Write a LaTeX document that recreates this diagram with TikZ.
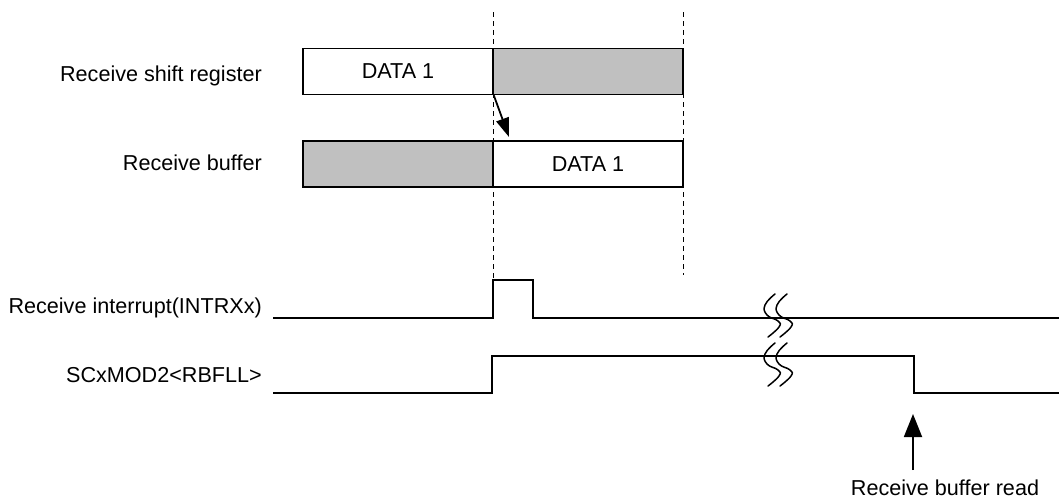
\documentclass[tikz,border=0pt]{standalone}
\usepackage{fontspec}
\setmainfont{Liberation Sans}
\usetikzlibrary{arrows.meta}
\begin{document}
\begin{tikzpicture}[x=1pt,y=-1pt,
  lbl/.style={inner sep=0pt,font=\fontsize{21.6}{25}\selectfont},
  cell/.style={draw=black,line width=1.6pt,minimum width=190pt,minimum height=46pt,inner sep=0pt,font=\fontsize{21.6}{25}\selectfont},
  wave/.style={line width=1.8pt,line join=miter},
  guide/.style={line width=0.8pt,dash pattern=on 5pt off 4pt},
  brk/.style={line width=1.5pt,line cap=round},
  tipa/.style={-{Triangle[length=19pt,width=13pt]},line width=1.8pt},
  tipb/.style={-{Triangle[length=23pt,width=18pt]},line width=1.8pt}]
\useasboundingbox (0,0) rectangle (1061,498);
\definecolor{shade}{RGB}{192,192,192}
% guide lines
\coordinate (g1t) at (493,12); \coordinate (g1b) at (493,280);
\coordinate (g2t) at (683,12); \coordinate (g2b) at (683,275);
\draw[guide] (g1t) -- (g1b);
\draw[guide] (g2t) -- (g2b);
% boxes
\node[cell,fill=white] (sr1) at (398,71.5) {DATA 1};
\node[cell,fill=shade] (sr2) at (588,71.5) {};
\node[cell,fill=shade] (rb1) at (398,164) {};
\node[cell,fill=white] (rb2) at (588,164) {DATA 1};
% labels
\node[lbl,anchor=base east] (lsr) at (262,81) {Receive shift register};
\node[lbl,anchor=base east] (lrb) at (262,170) {Receive buffer};
\node[lbl,anchor=base east] (lint) at (262,313) {Receive interrupt(INTRXx)};
\node[lbl,anchor=base east] (lmod) at (262,382) {SCxMOD2<RBFLL>};
\node[lbl,anchor=base] (lread) at (945,495) {Receive buffer read};
% transfer arrow
\coordinate (a1) at (sr1.south east);
\coordinate (a2) at (509,137);
\draw[tipa] (a1) -- (a2);
% waveforms
\draw[wave] (273,318) -- (493,318) -- (493,280) -- (533,280) -- (533,318) -- (1059,318);
\draw[wave] (273,393) -- (492,393) -- (492,356) -- (914,356) -- (914,393) -- (1059,393);
% break marks
\foreach \tx/\ty in {775/294, 787/294, 775/343, 787/343}{
  \draw[brk] plot[smooth,tension=0.8] coordinates {(\tx,\ty) (\tx-10,\ty+11) (\tx-8,\ty+21) (\tx+3,\ty+27) (\tx+4,\ty+33) (\tx-7,\ty+43)};
}
% read arrow
\coordinate (r1) at (913,470);
\coordinate (r2) at (913,414);
\draw[tipb] (r1) -- (r2);
\end{tikzpicture}
\end{document}
